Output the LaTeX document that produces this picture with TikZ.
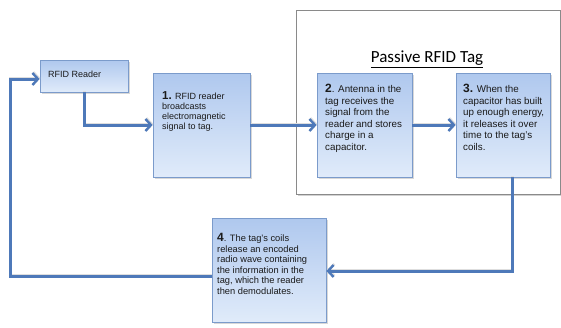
\documentclass[tikz,border=0pt]{standalone}
\usepackage{fontspec}
\setmainfont{Liberation Sans}
\newfontfamily\titlefont{Carlito}
\usetikzlibrary{arrows.meta,shadows}
\definecolor{boxtop}{HTML}{AFC8EE}
\definecolor{boxbot}{HTML}{E0EBFA}
\definecolor{boxedge}{HTML}{7B9BCB}
\definecolor{arrowc}{HTML}{4E79B9}
\definecolor{frameedge}{HTML}{8A8A8A}
\definecolor{txtc}{HTML}{1A1A1A}
\tikzset{
  stepbox/.style={draw=boxedge, line width=0.8pt, top color=boxtop, bottom color=boxbot,
    rectangle, inner sep=0pt, drop shadow={shadow xshift=1.5pt, shadow yshift=-1.5pt, opacity=0.3}},
  framebox/.style={draw=frameedge, line width=0.9pt, fill=white, rectangle, inner sep=0pt,
    drop shadow={shadow xshift=2pt, shadow yshift=-2pt, opacity=0.35}},
  boxtext/.style={anchor=north west, align=left, inner sep=0pt, text=txtc},
  arr/.style={draw=arrowc, line width=3pt, -{Straight Barb[length=5.5pt,width=12pt,line width=2.4pt]},
    preaction={draw=black!13, line width=3pt, transform canvas={shift={(0.8pt,1pt)}}, -{Straight Barb[length=5.5pt,width=12pt,line width=2.4pt]}}},
}
\begin{document}
\begin{tikzpicture}[x=1pt,y=-1pt]
\useasboundingbox (0,0) rectangle (561,327);
\fill[white] (0,0) rectangle (561,327);
% outer frame
\node[framebox, minimum width=264pt, minimum height=184pt] (frame) at (428,102) {};
\node[font=\titlefont\fontsize{17}{19}\selectfont] (title) at (427,59) {\underline{Passive RFID Tag}};
% boxes
\node[stepbox, minimum width=88pt, minimum height=32pt] (reader) at (84,76) {};
\node[stepbox, minimum width=97pt, minimum height=104pt] (b1) at (201.5,125) {};
\node[stepbox, minimum width=95pt, minimum height=104pt] (b2) at (364.5,125) {};
\node[stepbox, minimum width=94pt, minimum height=104pt] (b3) at (503,125) {};
\node[stepbox, minimum width=114pt, minimum height=104pt] (b4) at (269,270) {};
% texts
\node[boxtext, font=\fontsize{9}{10}\selectfont] (treader) at (48,71) {RFID Reader};
\node[boxtext, font=\fontsize{9}{10}\selectfont] (t1) at (162,91) {{\fontsize{11.5}{10}\selectfont\bfseries 1.} RFID reader\\broadcasts\\electromagnetic\\signal to tag.};
\node[boxtext, font=\fontsize{9.8}{11.5}\selectfont] (t2) at (325,84) {{\fontsize{12}{11.5}\selectfont\bfseries 2}. Antenna in the\\tag receives the\\signal from the\\reader and stores\\charge in a\\capacitor.};
\node[boxtext, font=\fontsize{9.8}{11.5}\selectfont] (t3) at (463,84) {{\fontsize{12}{11.5}\selectfont\bfseries 3.} When the\\capacitor has built\\up enough energy,\\it releases it over\\time to the tag's\\coils.};
\node[boxtext, font=\fontsize{9.3}{10.6}\selectfont] (t4) at (217,233) {{\fontsize{12}{10.6}\selectfont\bfseries 4}. The tag's coils\\release an encoded\\radio wave containing\\the information in the\\tag, which the reader\\then demodulates.};
% connector coordinates
\coordinate (lb) at (10,276);
\coordinate (lt) at (10,79);
\coordinate (rc) at (512,271);
% connectors
\draw[arr] (reader.south) |- (b1.west);
\draw[arr] (b1.east) -- (b2.west);
\draw[arr] (b2.east) -- (b3.west);
\draw[arr] (b3.south -| rc) -- (rc) -- (rc -| b4.east);
\draw[arr] (b4.west |- lb) -- (lb) -- (lt) -- (lt -| reader.west);
\end{tikzpicture}
\end{document}
